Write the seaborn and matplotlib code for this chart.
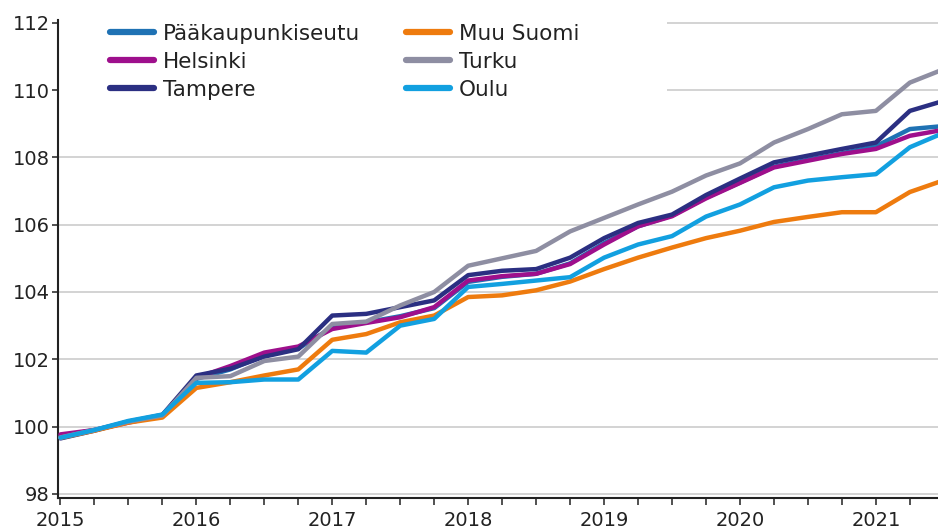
import matplotlib
matplotlib.use('Agg')
import matplotlib.pyplot as plt
import matplotlib.patches as mpatches
from matplotlib.ticker import MultipleLocator
import pandas as pd
import seaborn as sns

# Quarterly index values 2015Q1 .. 2021Q3
quarters = [f"{y}Q{q}" for y in range(2015, 2022) for q in range(1, 5)][:27]

paakaupunkiseutu = [99.72, 99.90, 100.14, 100.33, 101.42, 101.70, 102.12, 102.32, 102.95,
                    103.10, 103.28, 103.52, 104.30, 104.45, 104.54, 104.85, 105.45, 105.95,
                    106.27, 106.80, 107.25, 107.72, 107.93, 108.12, 108.33, 108.84, 108.93]
helsinki = [99.77, 99.90, 100.12, 100.33, 101.45, 101.80, 102.20, 102.38, 102.90,
            103.08, 103.25, 103.55, 104.34, 104.47, 104.54, 104.83, 105.41, 105.95,
            106.25, 106.78, 107.24, 107.70, 107.90, 108.10, 108.25, 108.64, 108.82]
tampere = [99.65, 99.88, 100.15, 100.35, 101.52, 101.72, 102.08, 102.30, 103.30,
           103.35, 103.55, 103.75, 104.50, 104.63, 104.68, 105.02, 105.60, 106.05,
           106.30, 106.88, 107.37, 107.85, 108.05, 108.25, 108.44, 109.38, 109.68]
muu_suomi = [99.67, 99.88, 100.12, 100.27, 101.15, 101.32, 101.52, 101.70, 102.58,
             102.75, 103.10, 103.30, 103.85, 103.90, 104.05, 104.31, 104.68, 105.02,
             105.32, 105.60, 105.82, 106.08, 106.23, 106.37, 106.37, 106.97, 107.32]
turku = [99.68, 99.90, 100.15, 100.33, 101.45, 101.50, 101.95, 102.08, 103.05,
         103.12, 103.60, 104.00, 104.78, 105.00, 105.22, 105.80, 106.20, 106.60,
         106.98, 107.46, 107.82, 108.44, 108.84, 109.28, 109.38, 110.22, 110.62]
oulu = [99.67, 99.90, 100.17, 100.36, 101.30, 101.32, 101.40, 101.40, 102.25,
        102.20, 103.00, 103.20, 104.15, 104.24, 104.34, 104.44, 105.02, 105.41,
        105.66, 106.24, 106.60, 107.11, 107.31, 107.41, 107.50, 108.30, 108.73]

series = {
    'Pääkaupunkiseutu': paakaupunkiseutu,
    'Helsinki': helsinki,
    'Tampere': tampere,
    'Muu Suomi': muu_suomi,
    'Turku': turku,
    'Oulu': oulu,
}
colors = ['#1f72b4', '#9e0f8c', '#2b2f82', '#ee7b0e', '#8e8ea2', '#12a0e0']

rows = []
for name, vals in series.items():
    for q, v in zip(quarters, vals):
        rows.append({'aika': int(q[:4]) + (int(q[-1]) - 1) / 4, 'alue': name, 'indeksi': v})
df = pd.DataFrame(rows)

sns.set_style('white')
plt.rcParams['font.family'] = ['DejaVu Sans']

fig = plt.figure(figsize=(9.38, 5.32), dpi=100)
ax = fig.add_axes([58 / 938, 1 - 498 / 532, 880 / 938, 478 / 532])

sns.lineplot(data=df, x='aika', y='indeksi', hue='alue', palette=colors,
             linewidth=3.2, ax=ax, legend=False, zorder=3)

ax.set_xlim(2014.982, 2021.457)
ax.set_ylim(97.88, 112.08)
ax.set_yticks(range(98, 113, 2))
ax.xaxis.set_major_locator(MultipleLocator(1))
ax.xaxis.set_minor_locator(MultipleLocator(0.25))
ax.xaxis.set_major_formatter(matplotlib.ticker.FuncFormatter(lambda v, p: f"{int(round(v))}"))
ax.set_xlabel('')
ax.set_ylabel('')

ax.grid(axis='y', color='#cccccc', linewidth=1.2)
ax.set_axisbelow(True)
for s in ['top', 'right']:
    ax.spines[s].set_visible(False)
for s in ['left', 'bottom']:
    ax.spines[s].set_color('#222222')
    ax.spines[s].set_linewidth(1.5)

ax.tick_params(axis='both', which='both', direction='out', color='#222222',
               width=1.1, labelsize=14, labelcolor='#222222')
ax.tick_params(axis='x', which='both', length=5, pad=4, bottom=True)
ax.tick_params(axis='y', length=4, pad=2, left=True)

# white box behind the legend hides the upper gridlines
ax.add_patch(mpatches.Rectangle((0, 0.77), 0.692, 0.3, transform=ax.transAxes,
                                facecolor='white', edgecolor='none', zorder=1))

handles = [plt.Line2D([], [], color=c, linewidth=4.5) for c in colors]
fig.legend(handles, list(series.keys()), loc='upper left', ncol=2,
           bbox_to_anchor=(110 / 938, 1 - 24 / 532), frameon=False, fontsize=15.5,
           borderpad=0, handlelength=2.05, handletextpad=0.42, labelspacing=0.37,
           columnspacing=2.1, borderaxespad=0, labelcolor='#222222')

fig.savefig('out.png', dpi=100)
